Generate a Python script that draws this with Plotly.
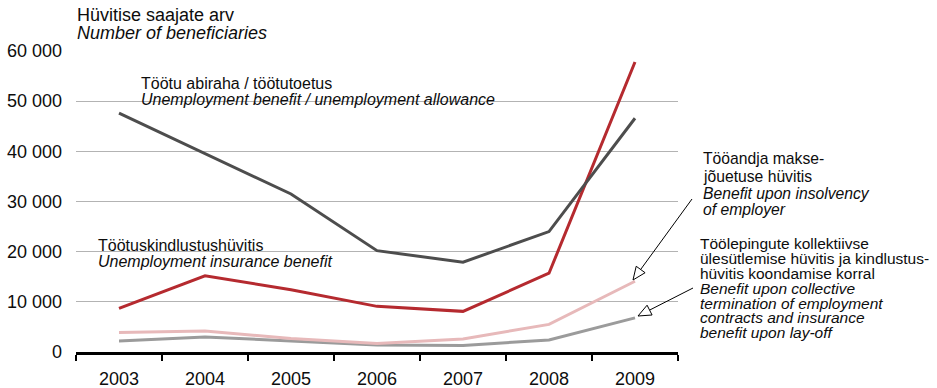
import math
import plotly.graph_objects as go

years = ["2003", "2004", "2005", "2006", "2007", "2008", "2009"]
unemployment_allowance = [47600, 39500, 31500, 20200, 17900, 24000, 46600]
insurance_benefit = [8700, 15200, 12400, 9100, 8100, 15700, 57800]
insolvency_benefit = [3900, 4200, 2700, 1700, 2600, 5500, 14100]
collective_benefit = [2200, 3000, 2200, 1400, 1300, 2400, 6800]

y_tick_vals = [0, 10000, 20000, 30000, 40000, 50000, 60000]
y_tick_text = ["0", "10 000", "20 000", "30 000", "40 000", "50 000", "60 000"]

W, H = 937, 388
L, R, T, B = 76, 678, 51, 352  # plot area pixel bounds
FONT = "Liberation Sans, Arial, sans-serif"
TXT = "#0d0d0d"
XPAD = 2  # annotation inner padding correction


def px(x):
    return (x - L) / (R - L)


def py(y):
    return (B - y) / (B - T)


fig = go.Figure()
series = [
    (collective_benefit, "#9b9b9b"),
    (insolvency_benefit, "#e7b9ba"),
    (insurance_benefit, "#b52a2f"),
    (unemployment_allowance, "#4d4d4d"),
]
for vals, col in series:
    fig.add_trace(go.Scatter(x=years, y=vals, mode="lines",
                             line=dict(color=col, width=3),
                             hoverinfo="skip", showlegend=False))

annotations = []


def text(x, yc, s, size=16, italic=False):
    annotations.append(dict(
        x=px(x - XPAD), y=py(yc), xref="paper", yref="paper",
        xanchor="left", yanchor="middle", showarrow=False,
        text=("<i>%s</i>" % s) if italic else s,
        font=dict(family=FONT, size=size, color=TXT),
    ))


# title
text(77, 15, "Hüvitise saajate arv", size=18)
text(77, 33.5, "Number of beneficiaries", size=18, italic=True)
# series labels
text(141, 83, "Töötu abiraha / töötutoetus")
text(141, 100, "Unemployment benefit / unemployment allowance", italic=True)
text(98, 245, "Töötuskindlustushüvitis")
text(98, 261, "Unemployment insurance benefit", italic=True)

ins_lines = [("Tööandja makse-", False), ("jõuetuse hüvitis", False),
             ("Benefit upon insolvency", True), ("of employer", True)]
for (s, it), yc in zip(ins_lines, [158, 176.5, 193, 209.5]):
    text(703, yc, s, size=15.7, italic=it)

col_lines = [("Töölepingute kollektiivse", False),
             ("ülesütlemise hüvitis ja kindlustus-", False),
             ("hüvitis koondamise korral", False),
             ("Benefit upon collective", True),
             ("termination of employment", True),
             ("contracts and insurance", True),
             ("benefit upon lay-off", True)]
for (s, it), yc in zip(col_lines, [243, 258, 273, 288, 303, 317.5, 332]):
    text(700, yc, s, size=15.5, italic=it)

shapes = []
# white masks behind labels that interrupt gridlines
for x0, x1, y0, y1 in [(130, 503, 94, 109), (87, 335, 244, 259)]:
    shapes.append(dict(type="rect", xref="paper", yref="paper",
                       x0=px(x0), x1=px(x1), y0=py(y1), y1=py(y0),
                       fillcolor="white", line=dict(width=0), layer="between"))


def arrow(tail, tip, hl=13, hw=5.5):
    dx, dy = tip[0] - tail[0], tip[1] - tail[1]
    ln = math.hypot(dx, dy)
    ux, uy = dx / ln, dy / ln
    bx, by = tip[0] - hl * ux, tip[1] - hl * uy
    nx, ny = -uy, ux
    c1 = (bx + hw * nx, by + hw * ny)
    c2 = (bx - hw * nx, by - hw * ny)
    shapes.append(dict(type="line", xref="paper", yref="paper",
                       x0=px(tail[0]), y0=py(tail[1]), x1=px(bx), y1=py(by),
                       line=dict(color="black", width=1), layer="above"))
    path = "M %f %f L %f %f L %f %f Z" % (px(tip[0]), py(tip[1]),
                                        px(c1[0]), py(c1[1]),
                                        px(c2[0]), py(c2[1]))
    shapes.append(dict(type="path", xref="paper", yref="paper", path=path,
                       fillcolor="white", line=dict(color="black", width=1),
                       layer="above"))


arrow((692, 199), (633, 280))
arrow((693, 288), (638, 316))

fig.update_layout(
    width=W, height=H,
    margin=dict(l=L, r=W - R, t=T, b=H - B, pad=0, autoexpand=False),
    paper_bgcolor="white", plot_bgcolor="white",
    font=dict(family=FONT, size=18, color=TXT),
    annotations=annotations, shapes=shapes,
    showlegend=False,
)
fig.update_xaxes(
    type="category", range=[-0.5, 6.5], automargin=False,
    showgrid=False, showline=True, linecolor="black", linewidth=3,
    ticks="outside", tickson="boundaries", ticklen=6, tickwidth=2,
    tickcolor="black", tickfont=dict(size=18, color=TXT), ticklabelstandoff=8,
    fixedrange=True,
)
fig.update_yaxes(
    range=[0, 60000], tickvals=y_tick_vals, ticktext=y_tick_text,
    automargin=False,
    showgrid=True, gridcolor="#b3b3b3", gridwidth=1, zeroline=False,
    showline=False, ticks="", tickfont=dict(size=18, color=TXT),
    ticklabelstandoff=13, fixedrange=True,
)

fig.write_html(
    "out.html",
    config={"displayModeBar": False},
    post_script="document.body.style.margin='0';document.body.style.overflow='hidden';",
)
